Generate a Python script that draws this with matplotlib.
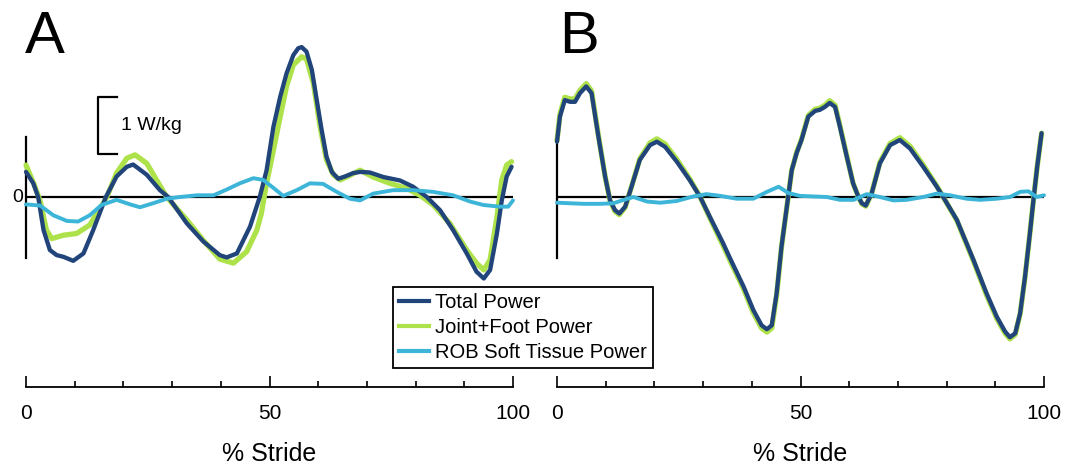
import numpy as np
import matplotlib
matplotlib.use("Agg")
import matplotlib.pyplot as plt
from matplotlib.lines import Line2D

plt.rcParams.update({"font.family": ["Liberation Sans", "DejaVu Sans"]})

# ---- panel A (% stride, W/kg) ----
a_total_x = [0, 1.5, 2.5, 3.6, 4.9, 6.3, 7.7, 9.7, 11.8, 13.8, 16.4, 18.6, 20.7, 22.0,
             24.8, 27.5, 29.2, 33.0, 36.4, 39.8, 41.2, 43.3, 46.0, 48.0, 49.4, 50.8,
             52.2, 53.5, 54.9, 55.9, 56.6, 57.6, 58.7, 59.7, 60.7, 61.7, 62.8, 64.1,
             65.5, 67.2, 68.6, 70.6, 73.4, 76.8, 79.5, 82.3, 85.0, 87.7, 90.5, 92.5,
             94.0, 95.3, 96.7, 97.7, 98.7, 99.7]
a_total_y = [0.44, 0.24, 0.0, -0.58, -0.93, -1.02, -1.05, -1.12, -0.99, -0.58, 0.0, 0.36,
             0.53, 0.57, 0.39, 0.12, 0.0, -0.46, -0.78, -1.02, -1.06, -0.99, -0.52, 0.0,
             0.47, 1.23, 1.76, 2.17, 2.49, 2.61, 2.63, 2.55, 2.23, 1.70, 1.18, 0.71,
             0.44, 0.32, 0.36, 0.42, 0.44, 0.43, 0.35, 0.29, 0.18, 0.0, -0.23, -0.58,
             -0.99, -1.31, -1.43, -1.28, -0.64, -0.06, 0.36, 0.53]

a_joint_x = [0, 1.8, 2.9, 4.2, 5.3, 7.7, 10.4, 13.1, 15.2, 16.6, 18.6, 20.7, 22.4, 24.8,
             26.8, 28.9, 33.0, 36.4, 39.8, 42.6, 45.3, 47.4, 48.3, 49.4, 50.8, 52.2,
             53.5, 54.9, 56.6, 57.6, 59.0, 60.4, 61.7, 63.1, 64.5, 65.8, 68.6, 71.3,
             74.7, 78.2, 80.9, 83.6, 87.0, 90.5, 92.5, 94.0, 95.3, 96.7, 97.7, 98.7, 99.7]
a_joint_y = [0.56, 0.19, -0.07, -0.58, -0.73, -0.67, -0.64, -0.49, -0.2, 0.0, 0.42, 0.68,
             0.74, 0.59, 0.3, 0.0, -0.40, -0.76, -1.09, -1.16, -0.96, -0.58, -0.3, 0.24,
             0.82, 1.41, 1.94, 2.32, 2.46, 2.42, 2.0, 1.23, 0.65, 0.39, 0.3, 0.35, 0.47,
             0.35, 0.24, 0.15, 0.03, -0.14, -0.46, -0.93, -1.16, -1.28, -1.1, -0.35,
             0.3, 0.56, 0.62]

a_tissue_x = [0, 2.9, 5.6, 8.4, 10.7, 13.1, 15.5, 18.6, 21.4, 23.4, 26.1, 28.9, 31.6,
              35.1, 38.5, 41.2, 43.9, 46.7, 48.7, 50.8, 52.8, 55.6, 58.3, 61.0, 63.8,
              66.5, 68.6, 71.3, 75.4, 79.5, 83.6, 87.7, 91.2, 93.9, 97.3, 99.0, 100]
a_tissue_y = [-0.13, -0.15, -0.32, -0.42, -0.43, -0.32, -0.14, -0.05, -0.13, -0.18,
              -0.11, -0.03, 0.0, 0.03, 0.03, 0.13, 0.24, 0.33, 0.30, 0.16, 0.02, 0.12,
              0.24, 0.23, 0.09, -0.03, -0.06, 0.06, 0.12, 0.12, 0.09, 0.03, -0.08,
              -0.14, -0.17, -0.17, -0.06]

# ---- panel B ----
b_x = [0, 0.6, 1.6, 2.7, 3.7, 4.7, 6.0, 7.1, 8.5, 9.9, 10.9, 11.9, 12.8, 14.0, 15.3,
       17.0, 19.1, 20.5, 22.2, 24.6, 27.3, 29.4, 31.4, 34.1, 35.5, 38.3, 40.3, 42.0,
       43.1, 44.1, 45.1, 46.1, 47.2, 48.2, 49.2, 50.2, 51.6, 53.0, 54.0, 55.0, 56.0,
       57.1, 58.1, 59.5, 60.8, 61.9, 62.6, 63.4, 64.6, 66.3, 68.4, 70.4, 72.5, 75.2,
       78.0, 79.3, 82.1, 85.5, 88.2, 90.3, 92.0, 93.0, 94.1, 95.1, 96.1, 97.1, 97.9,
       98.6, 99.5]
b_total_y = [0.97, 1.41, 1.70, 1.67, 1.67, 1.82, 1.94, 1.82, 1.06, 0.35, -0.06, -0.23,
             -0.29, -0.17, 0.18, 0.65, 0.91, 0.97, 0.88, 0.62, 0.29, 0.0, -0.35, -0.81,
             -1.07, -1.57, -1.98, -2.25, -2.32, -2.25, -1.69, -0.87, -0.17, 0.47, 0.77,
             1.0, 1.41, 1.51, 1.53, 1.58, 1.65, 1.58, 1.23, 0.71, 0.24, 0.0, -0.11,
             -0.15, 0.06, 0.59, 0.91, 1.0, 0.85, 0.53, 0.18, 0.0, -0.40, -1.1, -1.69,
             -2.1, -2.36, -2.46, -2.39, -2.04, -1.40, -0.64, 0.0, 0.53, 1.12]
b_joint_y = [0.99, 1.45, 1.75, 1.72, 1.72, 1.87, 1.99, 1.86, 1.08, 0.35, -0.07, -0.25,
             -0.31, -0.18, 0.18, 0.67, 0.95, 1.02, 0.93, 0.66, 0.31, 0.0, -0.37, -0.85,
             -1.11, -1.61, -2.03, -2.30, -2.37, -2.30, -1.72, -0.88, -0.17, 0.47, 0.78,
             1.01, 1.43, 1.54, 1.56, 1.61, 1.69, 1.61, 1.25, 0.72, 0.24, 0.0, -0.12,
             -0.16, 0.06, 0.61, 0.94, 1.04, 0.89, 0.56, 0.19, 0.0, -0.41, -1.12, -1.72,
             -2.13, -2.39, -2.49, -2.41, -2.05, -1.41, -0.64, 0.0, 0.53, 1.12]

b_tissue_x = [0, 2.7, 5.5, 8.9, 11.6, 13.7, 15.7, 18.5, 21.2, 24.6, 28.0, 30.7, 33.5,
              36.9, 40.3, 43.1, 45.5, 47.5, 49.9, 52.6, 55.4, 58.1, 60.9, 63.6, 66.3,
              69.1, 71.8, 75.2, 78.0, 80.7, 84.1, 86.9, 90.3, 93.0, 95.1, 96.8, 98.5, 100]
b_tissue_y = [-0.1, -0.11, -0.12, -0.12, -0.11, -0.05, 0.0, -0.08, -0.1, -0.07, 0.01,
              0.05, 0.02, -0.03, -0.03, 0.09, 0.18, 0.07, 0.02, 0.01, 0.0, -0.05, -0.05,
              0.05, 0.0, -0.06, -0.05, 0.0, 0.06, 0.03, -0.03, -0.05, -0.03, 0.0, 0.09,
              0.1, 0.0, 0.03]

series_labels = ["Total Power", "Joint+Foot Power", "ROB Soft Tissue Power"]
c_total = "#21457a"
c_joint = "#aee24a"
c_tissue = "#3db5d8"

W, H = 1073, 470
fig = plt.figure(figsize=(W / 100, H / 100), dpi=100)

px = 4.87      # pixels per % stride
py = 57.0      # pixels per W/kg
zero_px = 197
axis_px = 387
ylo = (zero_px - axis_px) / py
yhi = zero_px / py


def panel(left_px, tx, ty, jx, jy, sx, sy):
    ax = fig.add_axes([left_px / W, (H - axis_px) / H, 100 * px / W, axis_px / H])
    ax.set_xlim(0, 100)
    ax.set_ylim(ylo, yhi)
    for s in ("top", "right", "left"):
        ax.spines[s].set_visible(False)
    ax.spines["bottom"].set_linewidth(1.3)
    ax.set_yticks([])
    ax.set_xticks([0, 50, 100])
    ax.set_xticks(np.arange(0, 101, 10), minor=True)
    ax.tick_params(axis="x", which="major", direction="in", length=8, width=1.2,
                   labelsize=15, pad=12)
    ax.tick_params(axis="x", which="minor", direction="in", length=4.5, width=1.2)
    ax.set_xlabel("% Stride", fontsize=18, labelpad=14)

    ax.plot([0, 100], [0, 0], color="black", lw=1.6, zorder=1)
    ax.plot([0, 0], [(zero_px - 258) / py, (zero_px - 137) / py], color="black",
            lw=1.6, zorder=1, clip_on=False)
    kw = dict(solid_joinstyle="round", solid_capstyle="round", clip_on=False)
    ax.plot(jx, jy, color=c_joint, lw=3.8, zorder=2, **kw)
    ax.plot(tx, ty, color=c_total, lw=3.1, zorder=3, **kw)
    ax.plot(sx, sy, color=c_tissue, lw=2.8, zorder=4, **kw)
    return ax


ax_a = panel(26, a_total_x, a_total_y, a_joint_x, a_joint_y, a_tissue_x, a_tissue_y)
ax_b = panel(557, b_x, b_total_y, b_x, b_joint_y, b_tissue_x, b_tissue_y)

# scale bar 1 W/kg
bx0, bx1 = (98 - 26) / px, (117 - 26) / px
by0, by1 = (zero_px - 154) / py, (zero_px - 97) / py
ax_a.plot([bx1, bx0, bx0, bx1], [by1, by1, by0, by0], color="black", lw=1.6)
ax_a.text((121 - 26) / px, (by0 + by1) / 2, "1 W/kg", fontsize=14, va="center", ha="left")
ax_a.text(-0.6, 0, "0", fontsize=14, va="center", ha="right")

fig.text(25 / W, (H - 53) / H, "A", fontsize=43, va="baseline", ha="left")
fig.text(559 / W, (H - 53) / H, "B", fontsize=43, va="baseline", ha="left")

handles = [Line2D([], [], color=c, lw=3) for c in (c_total, c_joint, c_tissue)]
leg = fig.legend(handles, series_labels, loc="upper left",
                 bbox_to_anchor=(393 / W, (H - 287) / H), fontsize=14.5,
                 frameon=True, fancybox=False, framealpha=1, edgecolor="black",
                 handlelength=1.5, handletextpad=0.3, labelspacing=0.3,
                 borderpad=0.3, borderaxespad=0)
leg.get_frame().set_linewidth(1.3)

fig.savefig("out.png", dpi=100)
